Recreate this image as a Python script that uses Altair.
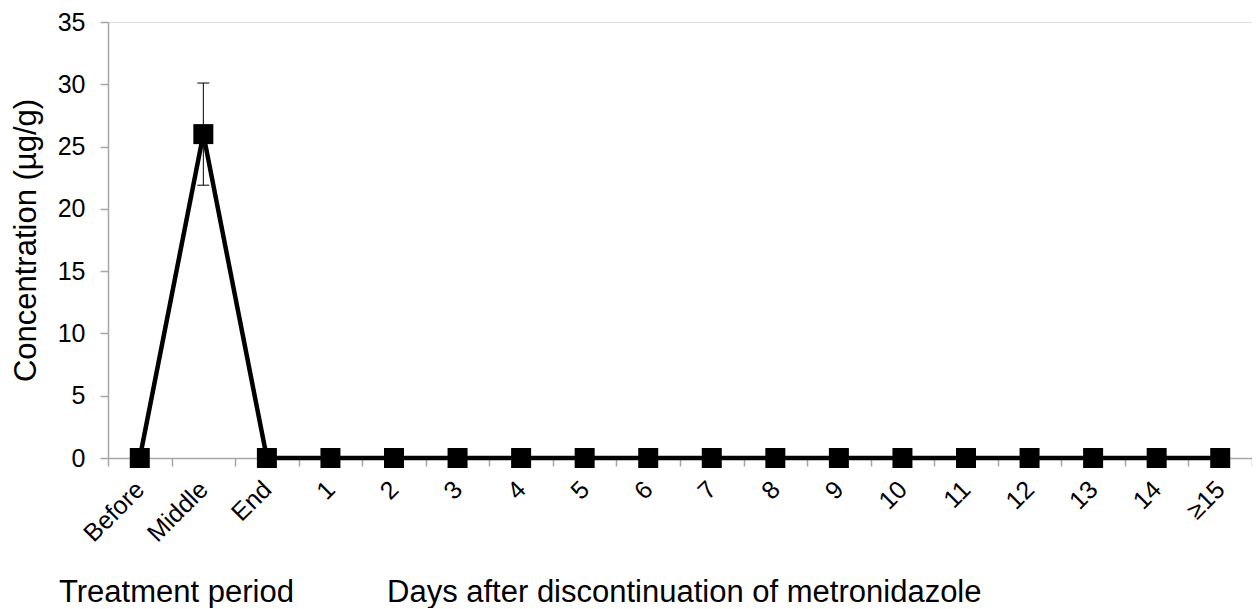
import json
import altair as alt
import pandas as pd

# ---------------- data ----------------
categories = ["Before", "Middle", "End", "1", "2", "3", "4", "5", "6", "7",
              "8", "9", "10", "11", "12", "13", "14", "≥15"]
concentration = [0, 26, 0, 0, 0, 0, 0, 0, 0, 0, 0, 0, 0, 0, 0, 0, 0, 0]
error_category = ["Middle"]
error_lower = [21.9]
error_upper = [30.1]
y_ticks = [0, 5, 10, 15, 20, 25, 30, 35]
y_title = "Concentration (µg/g)"
period_labels = ["Treatment period", "Days after discontinuation of metronidazole"]

n = len(categories)
pos_of = {c: i + 0.5 for i, c in enumerate(categories)}
df = pd.DataFrame({"category": categories,
                   "pos": [pos_of[c] for c in categories],
                   "value": concentration})
err_df = pd.DataFrame({"pos": [pos_of[c] for c in error_category],
                       "lower": error_lower, "upper": error_upper})
cap_df = pd.DataFrame({"pos": [pos_of[c] for c in error_category] * 2,
                       "cap": error_lower + error_upper})

AXIS_GRAY = "#a6a6a6"
FONT = "Liberation Sans"

label_expr = ("datum.value % 1 === 0 ? '' : "
              + json.dumps(categories, ensure_ascii=False)
              + "[floor(datum.value)]")

x_axis = alt.Axis(
    values=[i / 2 for i in range(2 * n + 1)],
    labelExpr=label_expr,
    labelAngle=-45, labelAlign="right", labelBaseline="middle",
    labelPadding=19, labelOverlap=False, labelBound=False, labelFlush=False,
    labelFontSize=25, labelColor="black", labelFont=FONT,
    tickSize=8, tickColor=AXIS_GRAY, tickWidth=1.5,
    tickOpacity={"condition": {"test": "datum.value % 1 === 0", "value": 1}, "value": 0},
    domainColor=AXIS_GRAY, domainWidth=1.5, grid=False, title=None,
)
x_enc = alt.X("pos:Q", scale=alt.Scale(domain=[0, n], nice=False, zero=False), axis=x_axis)

y_axis = alt.Axis(
    values=y_ticks, title=y_title, titleFontSize=31, titleFontWeight="normal",
    titleFont=FONT, titleColor="black",
    titleAngle=-90, titleX=-73, titleY=218, titleAlign="center", titleBaseline="alphabetic",
    labelFontSize=25, labelPadding=15, labelColor="black", labelFont=FONT,
    tickSize=8, tickColor=AXIS_GRAY, tickWidth=1.5,
    domainColor=AXIS_GRAY, domainWidth=1.5, grid=False,
)
y_scale = alt.Scale(domain=[0, 35], nice=False, zero=True)

err_rule = alt.Chart(err_df).mark_rule(color="black", strokeWidth=1).encode(
    x=x_enc,
    y=alt.Y("lower:Q", scale=y_scale, axis=y_axis),
    y2="upper:Q",
)
caps = alt.Chart(cap_df).mark_point(
    shape="M-1,0L1,0", size=144, filled=False, stroke="black", strokeWidth=1, opacity=1
).encode(
    x=x_enc,
    y=alt.Y("cap:Q", scale=y_scale, axis=y_axis),
)
line = alt.Chart(df).mark_line(color="black", strokeWidth=4.5).encode(
    x=x_enc,
    y=alt.Y("value:Q", scale=y_scale, axis=y_axis),
)
squares = alt.Chart(df).mark_point(
    shape="square", size=400, filled=True, color="black", opacity=1
).encode(
    x=x_enc,
    y=alt.Y("value:Q", scale=y_scale, axis=y_axis),
)

text1 = alt.Chart(pd.DataFrame({"t": [period_labels[0]]})).mark_text(
    align="left", baseline="alphabetic", fontSize=31, font=FONT, color="black"
).encode(text="t:N", x=alt.value(-49), y=alt.value(580))
text2 = alt.Chart(pd.DataFrame({"t": [period_labels[1]]})).mark_text(
    align="left", baseline="alphabetic", fontSize=31, font=FONT, color="black"
).encode(text="t:N", x=alt.value(279), y=alt.value(580))

chart = alt.layer(err_rule, caps, line, squares, text1, text2).properties(
    width=1144, height=436,
    autosize=alt.AutoSizeParams(type="none"),
    padding={"left": 100, "top": 14, "right": 0, "bottom": 150},
    background="white",
).configure_view(stroke=None).configure(font=FONT)

chart.save("out.html", embed_options={"renderer": "svg", "actions": False})
